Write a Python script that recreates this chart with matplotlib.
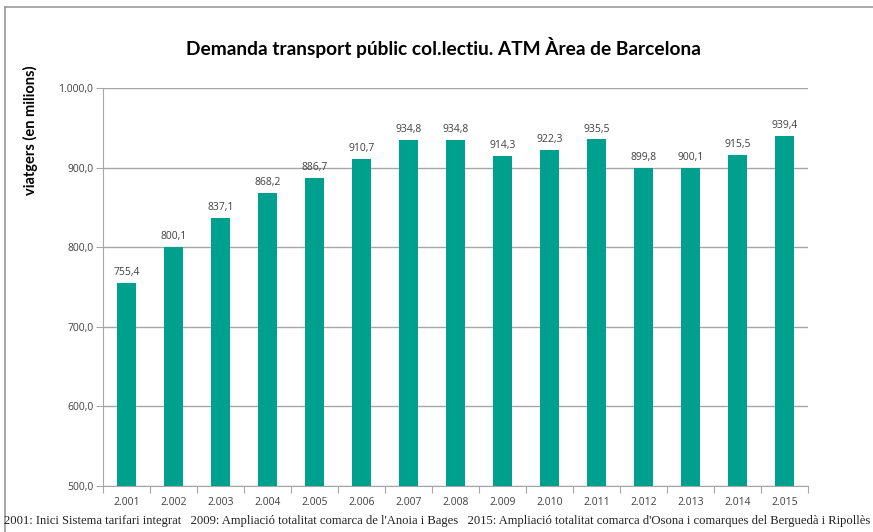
import matplotlib.pyplot as plt
from matplotlib.lines import Line2D
from matplotlib.ticker import FuncFormatter, FixedLocator
import numpy as np

# dades
anys = ['2.001', '2.002', '2.003', '2.004', '2.005', '2.006', '2.007', '2.008',
        '2.009', '2.010', '2.011', '2.012', '2.013', '2.014', '2.015']
viatgers = [755.4, 800.1, 837.1, 868.2, 886.7, 910.7, 934.8, 934.8,
            914.3, 922.3, 935.5, 899.8, 900.1, 915.5, 939.4]
y_ticks = [500, 600, 700, 800, 900, 1000]
nota = ("2001: Inici Sistema tarifari integrat   "
        "2009: Ampliació totalitat comarca de l'Anoia i Bages   "
        "2015: Ampliació totalitat comarca d'Osona i comarques del Berguedà i Ripollès")

def fmt_num(v):
    s = f'{v:,.1f}'
    return s.replace(',', 'X').replace('.', ',').replace('X', '.')

verd = '#00A08F'
gris = '#A6A6A6'

fig = plt.figure(figsize=(8.73, 5.32), dpi=100)
ax = fig.add_axes([103/873, 1-486/532, (808-103)/873, (486-88)/532])

x = np.arange(len(anys))
ax.bar(x, viatgers, width=0.42, color=verd, zorder=3)
for xi, v in zip(x, viatgers):
    ax.text(xi, v + 6, fmt_num(v), ha='center', va='bottom', fontsize=7.5,
            color='#404040', family='Open Sans')

ax.set_ylim(500, 1000)
ax.set_xlim(-0.5, len(anys) - 0.5)
ax.set_yticks(y_ticks)
ax.yaxis.set_major_formatter(FuncFormatter(lambda v, p: fmt_num(v)))
ax.grid(axis='y', color=gris, lw=1, zorder=0)

# ticks x entre categories, etiquetes centrades
ax.xaxis.set_major_locator(FixedLocator(np.arange(len(anys) + 1) - 0.5))
ax.xaxis.set_minor_locator(FixedLocator(x))
ax.set_xticklabels([])
ax.set_xticklabels(anys, minor=True)
ax.tick_params(axis='x', which='major', length=5, color=gris)
ax.tick_params(axis='x', which='minor', length=0, pad=8, labelsize=7.5, labelcolor='#404040')
ax.tick_params(axis='y', length=5, color=gris, labelsize=7.5, labelcolor='#404040', pad=2)
for lab in ax.get_xticklabels(minor=True) + ax.get_yticklabels():
    lab.set_family('Open Sans')

for s in ['top', 'right']:
    ax.spines[s].set_visible(False)
ax.spines['left'].set_color(gris)
ax.spines['bottom'].set_color(gris)

fig.text(443/873, 1-48/532, 'Demanda transport públic col.lectiu. ATM Àrea de Barcelona',
         ha='center', va='center', fontsize=13.8, fontweight='bold', family='Lato')
fig.text(30/873, 1-130/532, 'viatgers (en milions)', rotation=90, ha='center', va='center',
         fontsize=10.5, fontweight='bold', family='Lato')
fig.text(4/873, 1-521/532, nota, ha='left', va='center', fontsize=9.1,
         family='Liberation Serif', color='#222222')

# marc
fig.add_artist(Line2D([4.5/873, 4.5/873], [0, 1-7/532], color='#999999', lw=1.2))
fig.add_artist(Line2D([4.5/873, 1], [1-7/532, 1-7/532], color='#999999', lw=1.2))

fig.savefig('out.png', dpi=100)
